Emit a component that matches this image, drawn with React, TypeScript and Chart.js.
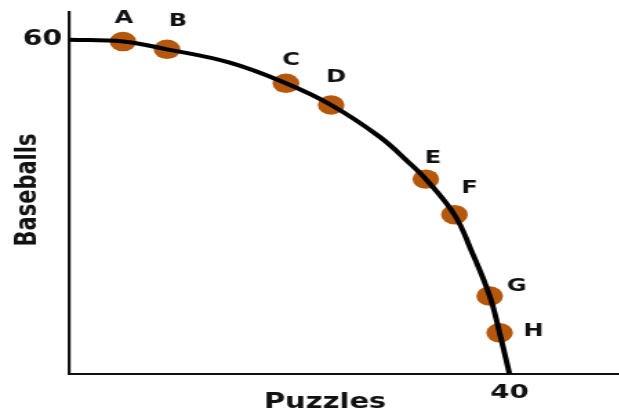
import { useEffect, useRef } from "react";
import { Chart, registerables } from "chart.js";

Chart.register(...registerables);

// Production possibilities: labelled combinations on the frontier
const pointNames = ["A", "B", "C", "D", "E", "F", "G", "H"];
const puzzles = [4.9, 8.9, 19.7, 23.8, 32.4, 35.0, 38.2, 39.1];
const baseballs = [59.7, 58.3, 52.2, 48.3, 35.0, 28.6, 14.0, 7.4];

// Frontier curve through the intercepts and the labelled combinations
const frontierPuzzles = [0, 4.9, 8.9, 14.6, 19.7, 23.8, 28.2, 30.9, 32.4, 35.0, 36.5, 38.2, 39.1, 40];
const frontierBaseballs = [60, 59.7, 58.3, 55.9, 52.2, 48.3, 42.6, 37.9, 35.0, 28.6, 22.3, 14.0, 7.4, 0];

const xTickValues = [40];
const yTickValues = [60];

// The drawing is widened horizontally by this factor
const STRETCH = 1.38;
const PAGE_W = 619;
const PAGE_H = 412;
const CANVAS_W = Math.round(PAGE_W / STRETCH);

// Letter placement relative to each dot (page pixels)
const labelOffsets: [number, number][] = [
  [1, -23],
  [11, -28],
  [5, -23],
  [5, -28],
  [7, -21],
  [15, -26],
  [27, -10],
  [34, -1.5],
];

const FONT = '"DejaVu Sans", Verdana, sans-serif';
const INK = "#111111";
const DOT = "rgb(181, 88, 14)";

const annotate = {
  id: "annotate",
  afterDraw(chart: any) {
    const { ctx, chartArea } = chart;
    const meta = chart.getDatasetMeta(1);
    ctx.save();
    ctx.fillStyle = INK;
    ctx.textAlign = "center";
    ctx.textBaseline = "middle";
    ctx.font = `bold 17.5px ${FONT}`;
    meta.data.forEach((el: any, i: number) => {
      const [dx, dy] = labelOffsets[i];
      ctx.fillText(pointNames[i], el.x + dx / STRETCH, el.y + dy);
    });
    ctx.font = `bold 21px ${FONT}`;
    ctx.fillText("Puzzles", chartArea.left + 256 / STRETCH, chartArea.bottom + 29);
    ctx.translate(chartArea.left - 41 / STRETCH, (chartArea.top + chartArea.bottom) / 2 - 3);
    ctx.rotate(-Math.PI / 2);
    ctx.fillText("Baseballs", 0, 0);
    ctx.restore();
  },
};

const noEdgePadding = (scale: any) => {
  scale.paddingLeft = 0;
  scale.paddingRight = 0;
  scale.paddingTop = 0;
  scale.paddingBottom = 0;
};

export default function App() {
  const canvasRef = useRef<HTMLCanvasElement | null>(null);

  useEffect(() => {
    const canvas = canvasRef.current;
    if (!canvas) return;
    const chart = new Chart(canvas, {
      type: "scatter",
      data: {
        datasets: [
          {
            label: "Frontier",
            data: frontierPuzzles.map((x, i) => ({ x, y: frontierBaseballs[i] })),
            showLine: true,
            borderColor: "#000000",
            borderWidth: 4,
            pointRadius: 0,
            pointHoverRadius: 0,
            tension: 0.4,
            order: 0,
          },
          {
            label: "Combinations",
            data: puzzles.map((x, i) => ({ x, y: baseballs[i] })),
            showLine: false,
            backgroundColor: DOT,
            borderWidth: 0,
            pointRadius: 9.7,
            pointHoverRadius: 9.7,
            order: 1,
          },
        ],
      },
      options: {
        animation: false,
        responsive: false,
        devicePixelRatio: 1,
        layout: { autoPadding: false, padding: { top: 12, right: 0, left: 0, bottom: 0 } },
        plugins: {
          legend: { display: false },
          tooltip: { enabled: false },
        },
        scales: {
          x: {
            type: "linear",
            min: 0,
            max: 50,
            afterBuildTicks: (scale: any) => {
              scale.ticks = xTickValues.map((value) => ({ value }));
            },
            afterFit: (scale: any) => {
              scale.height = 38;
              noEdgePadding(scale);
            },
            grid: { display: false, drawTicks: false },
            border: { display: true, color: INK, width: 2 },
            ticks: {
              autoSkip: false,
              maxRotation: 0,
              padding: 7,
              color: INK,
              font: { family: FONT, size: 20, weight: "bold" },
            },
          },
          y: {
            type: "linear",
            min: 0,
            max: 65,
            afterBuildTicks: (scale: any) => {
              scale.ticks = yTickValues.map((value) => ({ value }));
            },
            afterFit: (scale: any) => {
              scale.width = 69 / STRETCH;
              noEdgePadding(scale);
            },
            grid: { display: false, drawTicks: false },
            border: { display: true, color: INK, width: 2.2 },
            ticks: {
              autoSkip: false,
              padding: 5,
              color: INK,
              font: { family: FONT, size: 20.5, weight: "bold" },
            },
          },
        },
      },
      plugins: [annotate],
    } as any);
    return () => chart.destroy();
  }, []);

  return (
    <div
      style={{
        position: "absolute",
        left: 0,
        top: 0,
        width: PAGE_W,
        height: PAGE_H,
        overflow: "hidden",
        background: "#ffffff",
      }}
    >
      <canvas
        ref={canvasRef}
        width={CANVAS_W}
        height={PAGE_H}
        style={{
          display: "block",
          transform: `scaleX(${STRETCH})`,
          transformOrigin: "0 0",
        }}
      />
    </div>
  );
}
